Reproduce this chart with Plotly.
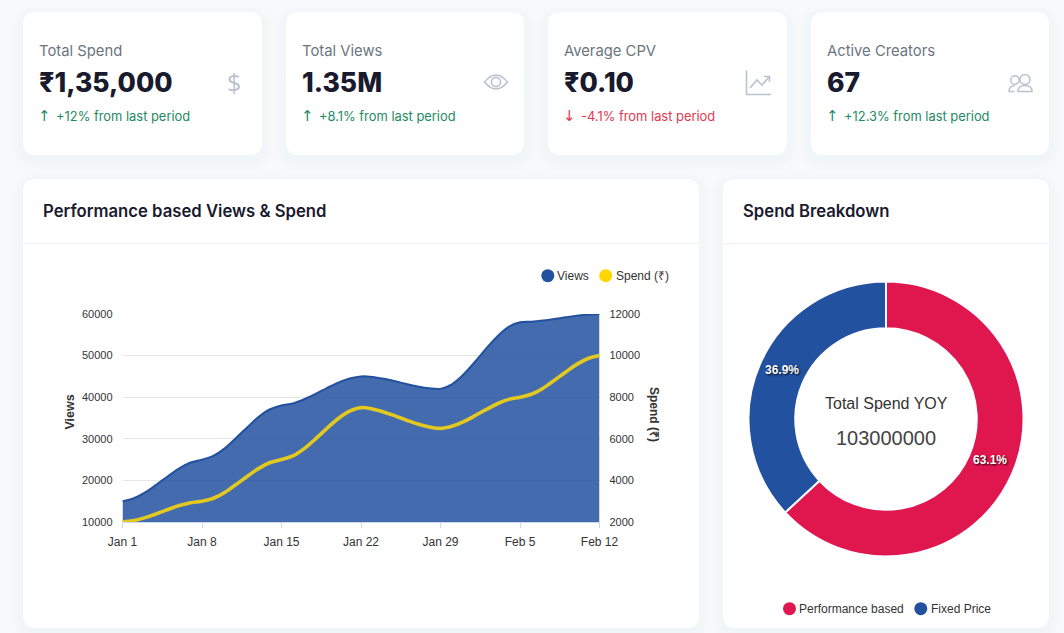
import re
import plotly.graph_objects as go

# ---- data ----
days = list(range(43))
views = [15000,15700,17100,19000,21000,22900,24300,
         25000,25900,27700,30200,32800,35300,37100,
         38000,38500,39500,40800,42200,43500,44500,
         45000,44870,44430,43830,43170,42570,42140,
         42000,43100,45400,48400,51600,54600,56900,
         58000,58140,58420,58800,59200,59580,59860,
         60000]
spend = [2000,2070,2210,2400,2600,2790,2930,
         3000,3140,3420,3800,4200,4580,4860,
         5000,5175,5525,6000,6500,6975,7325,
         7500,7430,7290,7100,6900,6710,6570,
         6500,6605,6815,7100,7400,7685,7895,
         8000,8140,8420,8800,9200,9580,9860,
         10000]
tick_days = [0,7,14,21,28,35,42]
tick_labels = ["Jan 1","Jan 8","Jan 15","Jan 22","Jan 29","Feb 5","Feb 12"]
pie_labels = ["Performance based","Fixed Price"]
pie_values = [63.1,36.9]
kpi_titles = ["Total Spend","Total Views","Average CPV","Active Creators"]
kpi_values = ["₹1,35,000","1.35M","₹0.10","67"]
kpi_deltas = ["+12% from last period","+8.1% from last period","-4.1% from last period","+12.3% from last period"]
kpi_up = [True,True,False,True]

W,H = 1064,633
BLUE="#2251a0"; RED="#e0164f"; GOLD="#ffd700"
POP="Inter, 'Noto Sans', sans-serif"; ARIAL="'Liberation Sans', Arial, sans-serif"
GREEN="#1f8a63"; DOWN="#e5384f"; ICON="#b9c2cd"

def px(x): return x/W
def py(y): return 1-y/H
def path(d):
    toks=re.findall(r"[A-Za-z]|-?[\d.]+",d); out=[]; i=0
    for t in toks:
        if t.isalpha(): out.append(t)
        else:
            out.append(f"{px(float(t)) if i%2==0 else py(float(t)):.6f}"); i+=1
    return " ".join(out)
def rr(x0,y0,x1,y1,r):
    return (f"M{x0+r} {y0} L{x1-r} {y0} Q{x1} {y0} {x1} {y0+r} L{x1} {y1-r} Q{x1} {y1} {x1-r} {y1} "
            f"L{x0+r} {y1} Q{x0} {y1} {x0} {y1-r} L{x0} {y0+r} Q{x0} {y0} {x0+r} {y0} Z")
shapes=[]; ann=[]
def pshape(d,fill=None,line=None,lw=0,op=1):
    shapes.append(dict(type="path",xref="paper",yref="paper",path=path(d),layer="below",opacity=op,
        fillcolor=fill or "rgba(0,0,0,0)",line=dict(color=line or "rgba(0,0,0,0)",width=lw)))
def circle(cx,cy,r,fill=None,line=None,lw=0,layer="below"):
    shapes.append(dict(type="circle",xref="paper",yref="paper",x0=px(cx-r),x1=px(cx+r),y0=py(cy+r),y1=py(cy-r),
        layer=layer,fillcolor=fill or "rgba(0,0,0,0)",line=dict(color=line or "rgba(0,0,0,0)",width=lw)))
def text(s,x,y,size,color,font=POP,weight=400,anchor="left",angle=0,shadow=None):
    f=dict(size=size,color=color,family=font,weight=weight)
    if shadow: f["shadow"]=shadow
    ann.append(dict(text=s,x=px(x),y=py(y),xref="paper",yref="paper",showarrow=False,xanchor=anchor,
        yanchor="middle",font=f,textangle=angle,borderpad=0,borderwidth=0))
def card(x0,y0,x1,y1,r):
    for g,o in ((12,.006),(8,.007),(5,.008),(2,.009)):
        pshape(rr(x0-g,y0-g+4,x1+g,y1+g+4,r+g),fill="#3c4a64",op=o)
    pshape(rr(x0,y0,x1,y1,r),fill="#ffffff")

cards=[(23,262),(286,524),(548,787),(811,1049)]
for i,(a,b) in enumerate(cards):
    card(a,12,b,155,13)
    text(kpi_titles[i],a+15.5,51,14.8,"#6c757d")
    text(kpi_values[i],a+15.5,82,26.5,"#1a1a2e",weight=800)
    c=GREEN if kpi_up[i] else DOWN
    text("↑" if kpi_up[i] else "↓",a+21.5,116,15,c,font="'DejaVu Sans'",anchor="center")
    text(kpi_deltas[i],a+33,116.5,12.9,c)
card(23,179,699,628,13); card(723,179,1049,628,13)
pshape("M23 243.5 L699 243.5",line="#eef0f3",lw=1)
pshape("M723 243.5 L1049 243.5",line="#eef0f3",lw=1)
text("Performance based Views & Spend",43,210.5,16.7,"#1a1a2e",weight=600)
text("Spend Breakdown",743,210.5,16.7,"#1a1a2e",weight=600)

# icons
text("$",233.5,82,25,ICON,font="'Open Sans'",anchor="center")
pshape("M484.5 82 Q496 68 507.5 82 Q496 96 484.5 82 Z",line=ICON,lw=1.6)
circle(496,82,4.6,line=ICON,lw=1.6)
pshape("M746.5 70.5 L746.5 94.5 L771 94.5",line=ICON,lw=1.6)
pshape("M750 88 L757 80 L762 85 L769 77 M764 76.5 L769.5 76.5 L769.5 82",line=ICON,lw=1.6)
circle(1015,80,4.3,line=ICON,lw=1.5); circle(1025,79.5,5,line=ICON,lw=1.5)
pshape("M1018 91.5 Q1018 85.5 1025 85.5 Q1032 85.5 1032 91.5 Z",line=ICON,lw=1.5)
pshape("M1015 85.5 Q1009 86 1009 91.5 L1014.5 91.5",line=ICON,lw=1.5)

# legends
circle(547.8,275.7,6.5,fill=BLUE,layer="above"); text("Views",557,275.7,12,"#333333",font=ARIAL)
circle(605.7,275.7,6.5,fill=GOLD,layer="above"); text("Spend (₹)",615.5,275.7,12,"#333333",font=ARIAL)
circle(789.5,608.7,6.5,fill=RED,layer="above"); text(pie_labels[0],799,608.7,12,"#333333",font=ARIAL)
circle(920.8,608.7,6.5,fill=BLUE,layer="above"); text(pie_labels[1],930.5,608.7,12,"#333333",font=ARIAL)

text("Views",69,412.5,12.5,"#333333",font=ARIAL,weight=700,anchor="center",angle=-90)
text("Spend (₹)",654,414,12,"#333333",font=ARIAL,weight=700,anchor="center",angle=90)
text("Total Spend YOY",886,403.5,16,"#333333",font=ARIAL,anchor="center")
text("103000000",886,438,20,"#444444",font=ARIAL,anchor="center")
shd="1px 1px 2px rgba(0,0,0,.9)"
text(f"{pie_values[0]}%",990,459.5,12,"#ffffff",font=ARIAL,weight=700,anchor="center",shadow=shd)
text(f"{pie_values[1]}%",782,369.5,12,"#ffffff",font=ARIAL,weight=700,anchor="center",shadow=shd)

fig=go.Figure()
fig.add_trace(go.Scatter(x=days,y=views,name="Views",mode="lines",line=dict(color=BLUE,width=2,shape="spline",smoothing=1),
    fill="tozeroy",fillcolor="rgba(34,81,160,0.85)",yaxis="y",showlegend=False))
fig.add_trace(go.Scatter(x=days,y=spend,name="Spend (₹)",mode="lines",line=dict(color="#e3c91f",width=3.6,shape="spline",smoothing=1),
    yaxis="y2",showlegend=False,cliponaxis=False))
fig.add_trace(go.Pie(labels=pie_labels,values=pie_values,hole=0.66,sort=False,direction="clockwise",rotation=0,
    marker=dict(colors=[RED,BLUE],line=dict(color="#ffffff",width=2)),textinfo="none",showlegend=False,
    domain=dict(x=[px(748.5),px(1023.5)],y=[py(556.5),py(281.5)])))
tf=dict(size=11,color="#333333",family=ARIAL)
fig.update_layout(width=W,height=H,margin=dict(l=0,r=0,t=0,b=0,pad=0,autoexpand=False),paper_bgcolor="#f8f9fb",plot_bgcolor="rgba(0,0,0,0)",
    shapes=shapes,annotations=ann,showlegend=False,
    xaxis=dict(domain=[px(122.5),px(599.5)],range=[0,42],tickmode="array",tickvals=tick_days,ticktext=tick_labels,
        showgrid=False,zeroline=False,showline=True,linecolor="#ccd6eb",linewidth=1,ticks="outside",ticklen=5,tickcolor="#ccd6eb",
        tickfont=dict(size=12,color="#333333",family=ARIAL),anchor="y",ticklabelstandoff=4),
    yaxis=dict(domain=[py(522),py(314)],range=[10000,60000],dtick=10000,tickformat="d",gridcolor="#e6e6e6",gridwidth=1,
        zeroline=False,showline=False,tickfont=tf,ticks="",ticklabelstandoff=9),
    yaxis2=dict(domain=[py(522),py(314)],range=[2000,12000],dtick=2000,tickformat="d",overlaying="y",side="right",showgrid=False,
        zeroline=False,showline=False,tickfont=tf,ticks="",ticklabelstandoff=9),
    hovermode=False)
fig.write_html("out.html",config=dict(displayModeBar=False),
    post_script="document.body.style.margin='0';document.body.style.overflow='hidden';")
